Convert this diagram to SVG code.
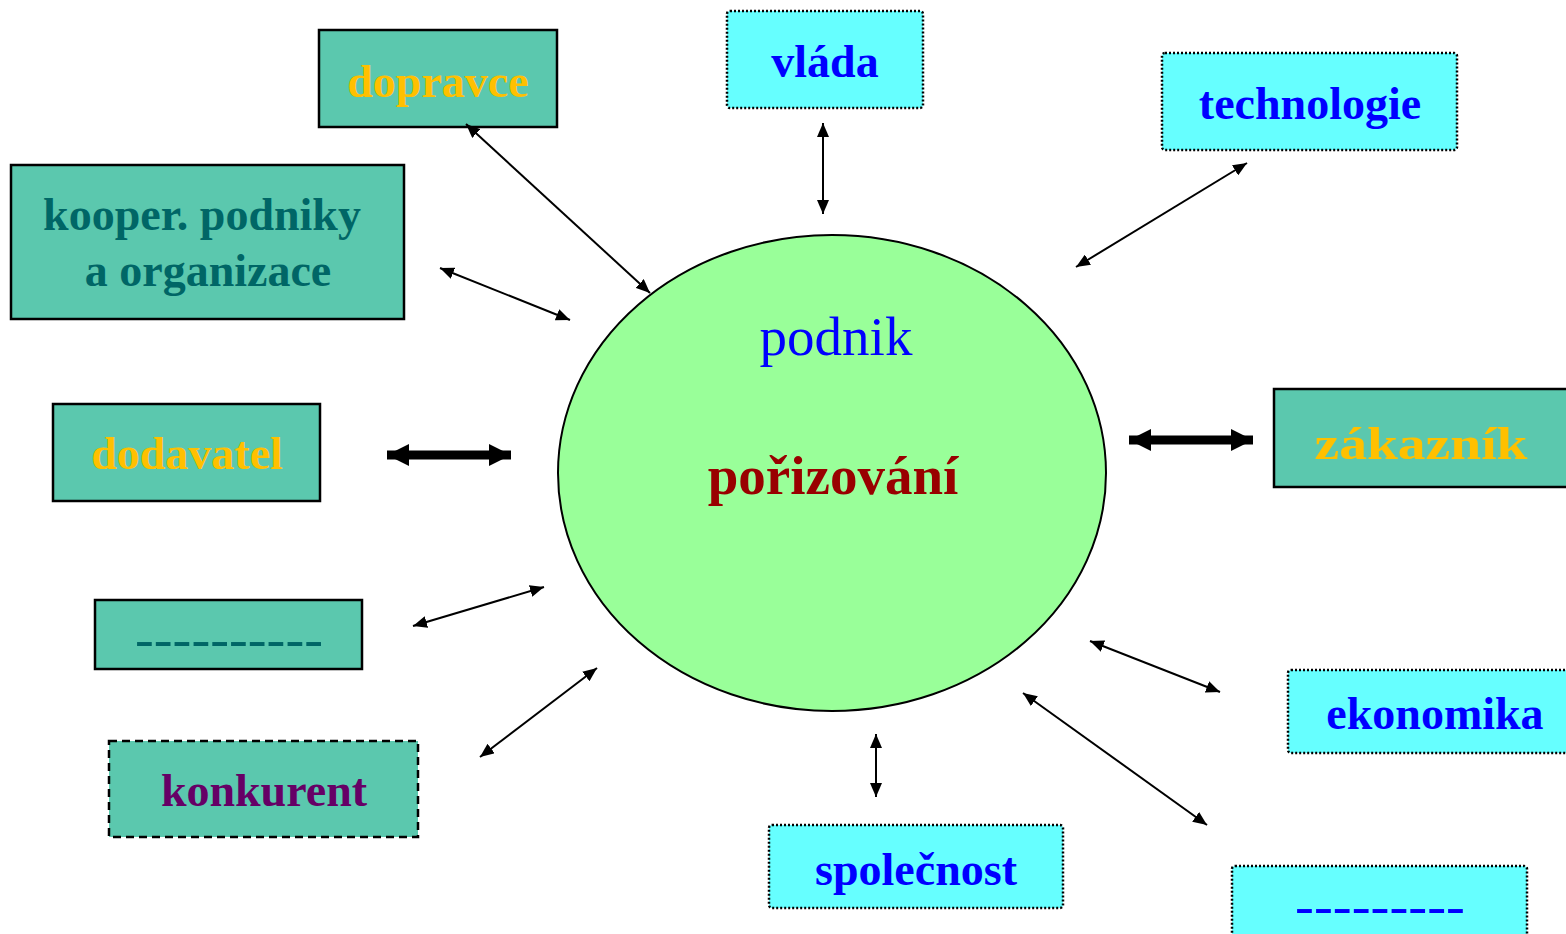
<svg xmlns="http://www.w3.org/2000/svg" width="1566" height="934" viewBox="0 0 1566 934">
  <style>
    .lbl { font-family: "Liberation Serif", "Times New Roman", serif; font-weight: bold; font-size: 46px; text-anchor: middle; }
    .teal { fill: #5BC8AE; stroke: #000; stroke-width: 2.5; }
    .cyan { fill: #66FFFF; stroke: #000; stroke-width: 2.5; stroke-dasharray: 2 2; }
    .gold { fill: #FFC000; }
    .dteal { fill: #006666; }
    .blue { fill: #0000FF; }
    .purple { fill: #660066; }
    .thin { stroke: #000; stroke-width: 2; fill: none; marker-start: url(#hs); marker-end: url(#hs); }
    .thick { stroke: #000; stroke-width: 9; fill: none; marker-start: url(#hl); marker-end: url(#hl); }
  </style>
  <defs>
    <marker id="hs" markerUnits="userSpaceOnUse" markerWidth="15" markerHeight="12" refX="14" refY="6" orient="auto-start-reverse">
      <path d="M0,0 L14,6 L0,12 Z" fill="#000"/>
    </marker>
    <marker id="hl" markerUnits="userSpaceOnUse" markerWidth="23" markerHeight="22" refX="22" refY="11" orient="auto-start-reverse">
      <path d="M0,0 L22,11 L0,22 Z" fill="#000"/>
    </marker>
  </defs>

  <rect width="1566" height="934" fill="#fff"/>

  <!-- central node -->
  <g id="podnik">
    <ellipse cx="832" cy="473" rx="274" ry="238" fill="#99FF99" stroke="#000" stroke-width="2"/>
    <text x="836" y="355" font-family="Liberation Serif, serif" font-size="55" text-anchor="middle" fill="#0000FF">podnik</text>
    <text x="833" y="494" font-family="Liberation Serif, serif" font-size="55" font-weight="bold" text-anchor="middle" fill="#990000">pořizování</text>
  </g>

  <!-- surrounding nodes -->
  <g id="dopravce">
    <rect class="teal" x="319" y="30" width="238" height="97"/>
    <text class="lbl gold" x="438" y="97">dopravce</text>
  </g>
  <g id="vlada">
    <rect class="cyan" x="727" y="11" width="196" height="97" rx="3"/>
    <text class="lbl blue" x="825" y="77">vláda</text>
  </g>
  <g id="technologie">
    <rect class="cyan" x="1162" y="53" width="295" height="97" rx="3"/>
    <text class="lbl blue" x="1310" y="119">technologie</text>
  </g>
  <g id="kooper">
    <rect class="teal" x="11" y="165" width="393" height="154"/>
    <text class="lbl dteal" x="202" y="230">kooper. podniky</text>
    <text class="lbl dteal" x="208" y="286">a organizace</text>
  </g>
  <g id="dodavatel">
    <rect class="teal" x="53" y="404" width="267" height="97"/>
    <text class="lbl gold" x="187" y="469">dodavatel</text>
  </g>
  <g id="nevyplneno-1">
    <rect class="teal" x="95" y="600" width="267" height="69"/>
    <text class="lbl dteal" x="229" y="655" font-size="52" textLength="188" lengthAdjust="spacingAndGlyphs">----------</text>
  </g>
  <g id="konkurent">
    <rect x="109" y="741" width="309" height="96" fill="#5BC8AE" stroke="#000" stroke-width="2.5" stroke-dasharray="8 5"/>
    <text class="lbl purple" x="264" y="806">konkurent</text>
  </g>
  <g id="zakaznik">
    <rect class="teal" x="1274" y="389" width="300" height="98"/>
    <text class="lbl gold" x="1421" y="459" font-size="62" textLength="213" lengthAdjust="spacingAndGlyphs">zákazník</text>
  </g>
  <g id="ekonomika">
    <rect class="cyan" x="1288" y="670" width="290" height="83" rx="3"/>
    <text class="lbl blue" x="1435" y="729">ekonomika</text>
  </g>
  <g id="spolecnost">
    <rect class="cyan" x="769" y="825" width="294" height="83" rx="3"/>
    <text class="lbl blue" x="916" y="885">společnost</text>
  </g>
  <g id="nevyplneno-2">
    <rect class="cyan" x="1232" y="866" width="295" height="90" rx="3"/>
    <text class="lbl blue" x="1380" y="922" font-size="52" textLength="170" lengthAdjust="spacingAndGlyphs">---------</text>
  </g>

  <!-- connectors -->
  <g id="connectors">
    <line class="thin" x1="466" y1="124" x2="650" y2="293"/>
    <line class="thin" x1="823" y1="123" x2="823" y2="214"/>
    <line class="thin" x1="1247" y1="163" x2="1076" y2="267"/>
    <line class="thin" x1="440" y1="268" x2="570" y2="320"/>
    <line class="thick" x1="387" y1="455" x2="511" y2="455"/>
    <line class="thick" x1="1129" y1="440" x2="1253" y2="440"/>
    <line class="thin" x1="413" y1="626" x2="544" y2="587"/>
    <line class="thin" x1="480" y1="757" x2="597" y2="668"/>
    <line class="thin" x1="876" y1="734" x2="876" y2="797"/>
    <line class="thin" x1="1090" y1="641" x2="1220" y2="692"/>
    <line class="thin" x1="1023" y1="693" x2="1207" y2="825"/>
  </g>
</svg>
